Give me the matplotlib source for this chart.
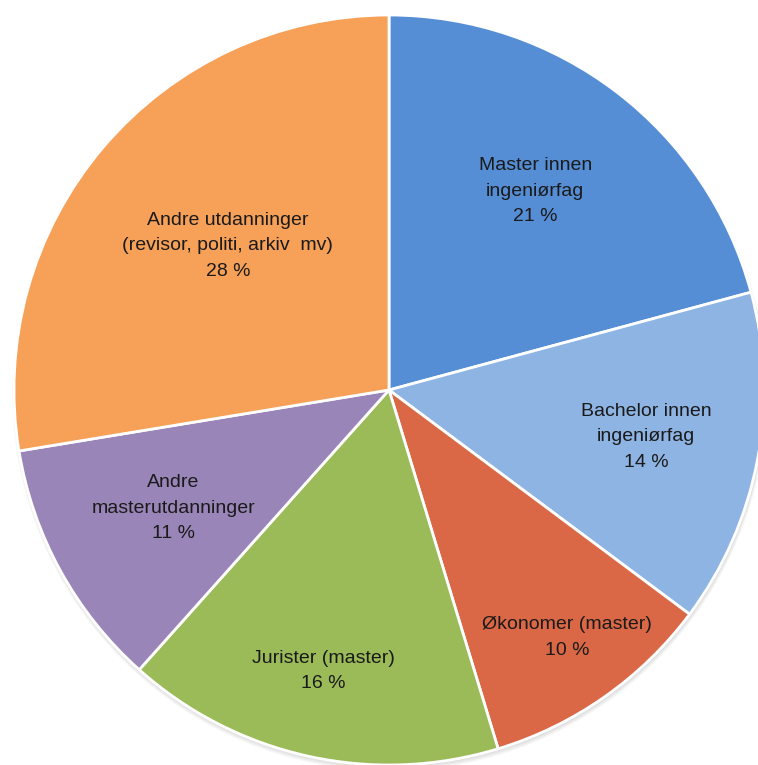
import matplotlib
matplotlib.use("Agg")
import matplotlib.pyplot as plt
from matplotlib.patches import Circle

# slice labels and shares (percent), clockwise from 12 o'clock
labels = ["Master innen\ningeniørfag", "Bachelor innen\ningeniørfag", "Økonomer (master)",
          "Jurister (master)", "Andre\nmasterutdanninger",
          "Andre utdanninger\n(revisor, politi, arkiv  mv)"]
shares = [20.8, 14.4, 10.1, 16.3, 10.8, 27.6]
colors = ["#568ED6", "#8EB4E3", "#DA6846", "#9BBB59", "#9985B8", "#F6A058"]

# where each label sits (data units, pie radius = 1)
label_pos = [(0.39, 0.53), (0.685, -0.125), (0.475, -0.66),
             (-0.175, -0.75), (-0.575, -0.315), (-0.43, 0.385)]

fig = plt.figure(figsize=(7.58, 7.65), dpi=100)
ax = fig.add_axes([0, 0, 1, 1])

# soft shadow under the pie
for k in range(4):
    ax.add_patch(Circle((0.002, -0.004 - 0.002 * k), 1.0 + 0.002 * k,
                        facecolor="#808080", edgecolor="none", alpha=0.08, zorder=0))

ax.pie(shares, colors=colors, startangle=90, counterclock=False, radius=1.0,
       wedgeprops=dict(edgecolor="white", linewidth=2))

for lab, val, (x, y) in zip(labels, shares, label_pos):
    ax.text(x, y, "{}\n{:.0f} %".format(lab, val), ha="center", va="center",
            fontsize=14, family="Liberation Sans", color="#1a1a1a", linespacing=1.65)

ax.set_xlim(-389 / 375, (758 - 389) / 375)
ax.set_ylim((390 - 765) / 375, 390 / 375)
ax.set_aspect("auto")
ax.axis("off")

fig.savefig("out.png", dpi=100, facecolor="white")
